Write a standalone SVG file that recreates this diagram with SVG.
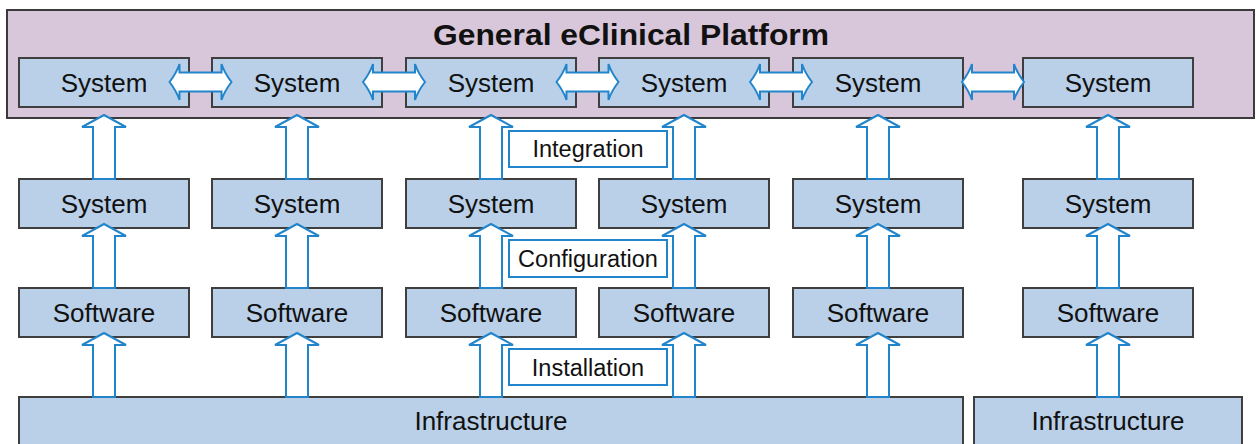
<svg xmlns="http://www.w3.org/2000/svg" xmlns:xlink="http://www.w3.org/1999/xlink" width="1256" height="444" viewBox="0 0 1256 444">
<style>
.bg{fill:#ffffff}
.plat{fill:#d8c6da;stroke:#3a3a3a;stroke-width:2}
.box{fill:#b9d0e8;stroke:#3f3f3f;stroke-width:2}
.lbl{fill:#ffffff;stroke:#2285cc;stroke-width:2}
.arr{fill:#ffffff;stroke:#2285cc;stroke-width:2;stroke-linejoin:miter}
.t{font-family:"Liberation Sans",Arial,Helvetica,sans-serif;font-size:26px;fill:#111;text-anchor:middle}
.tl{font-family:"Liberation Sans",Arial,Helvetica,sans-serif;font-size:23.5px;fill:#111;text-anchor:middle}
.title{font-family:"Liberation Sans",Arial,Helvetica,sans-serif;font-size:30px;font-weight:bold;fill:#111;text-anchor:middle}
</style>
<defs>
<path id="up" class="arr" d="M0,0 L22,12 L11,12 L11,64 L-11,64 L-11,12 L-22,12 Z"/>
<path id="dbl" class="arr" d="M-31,0 Q-24,-9 -21,-18 L-21,-9.5 L21,-9.5 L21,-18 Q24,-9 31,0 Q24,9 21,18 L21,9.5 L-21,9.5 L-21,18 Q-24,9 -31,0 Z"/>
</defs>
<rect class="bg" x="0" y="0" width="1256" height="444"/>

<g id="platform">
<rect class="plat" x="7" y="10" width="1247" height="108"/>
<text class="title" x="631" y="45" textLength="396" lengthAdjust="spacingAndGlyphs">General eClinical Platform</text>
</g>

<g id="sys-top-1"><rect class="box" x="19" y="58" width="170" height="49"/><text class="t" x="104" y="92">System</text></g>
<g id="sys-top-2"><rect class="box" x="212" y="58" width="170" height="49"/><text class="t" x="297" y="92">System</text></g>
<g id="sys-top-3"><rect class="box" x="406" y="58" width="170" height="49"/><text class="t" x="491" y="92">System</text></g>
<g id="sys-top-4"><rect class="box" x="599" y="58" width="170" height="49"/><text class="t" x="684" y="92">System</text></g>
<g id="sys-top-5"><rect class="box" x="793" y="58" width="170" height="49"/><text class="t" x="878" y="92">System</text></g>
<g id="sys-top-6"><rect class="box" x="1023" y="58" width="170" height="49"/><text class="t" x="1108" y="92">System</text></g>

<g id="sys-mid-1"><rect class="box" x="19" y="179" width="170" height="49"/><text class="t" x="104" y="213">System</text></g>
<g id="sys-mid-2"><rect class="box" x="212" y="179" width="170" height="49"/><text class="t" x="297" y="213">System</text></g>
<g id="sys-mid-3"><rect class="box" x="406" y="179" width="170" height="49"/><text class="t" x="491" y="213">System</text></g>
<g id="sys-mid-4"><rect class="box" x="599" y="179" width="170" height="49"/><text class="t" x="684" y="213">System</text></g>
<g id="sys-mid-5"><rect class="box" x="793" y="179" width="170" height="49"/><text class="t" x="878" y="213">System</text></g>
<g id="sys-mid-6"><rect class="box" x="1023" y="179" width="170" height="49"/><text class="t" x="1108" y="213">System</text></g>

<g id="sw-1"><rect class="box" x="19" y="288" width="170" height="49"/><text class="t" x="104" y="322">Software</text></g>
<g id="sw-2"><rect class="box" x="212" y="288" width="170" height="49"/><text class="t" x="297" y="322">Software</text></g>
<g id="sw-3"><rect class="box" x="406" y="288" width="170" height="49"/><text class="t" x="491" y="322">Software</text></g>
<g id="sw-4"><rect class="box" x="599" y="288" width="170" height="49"/><text class="t" x="684" y="322">Software</text></g>
<g id="sw-5"><rect class="box" x="793" y="288" width="170" height="49"/><text class="t" x="878" y="322">Software</text></g>
<g id="sw-6"><rect class="box" x="1023" y="288" width="170" height="49"/><text class="t" x="1108" y="322">Software</text></g>

<g id="infra-1"><rect class="box" x="19" y="397" width="944" height="70"/><text class="t" x="491" y="430">Infrastructure</text></g>
<g id="infra-2"><rect class="box" x="974" y="397" width="268" height="70"/><text class="t" x="1108" y="430">Infrastructure</text></g>

<g id="connectors">
<use xlink:href="#dbl" x="200.5" y="82"/>
<use xlink:href="#dbl" x="394" y="82"/>
<use xlink:href="#dbl" x="587.5" y="82"/>
<use xlink:href="#dbl" x="781" y="82"/>
<use xlink:href="#dbl" x="993" y="82"/>

<use xlink:href="#up" x="104" y="115"/>
<use xlink:href="#up" x="297" y="115"/>
<use xlink:href="#up" x="491" y="115"/>
<use xlink:href="#up" x="684" y="115"/>
<use xlink:href="#up" x="878" y="115"/>
<use xlink:href="#up" x="1108" y="115"/>

<use xlink:href="#up" x="104" y="224"/>
<use xlink:href="#up" x="297" y="224"/>
<use xlink:href="#up" x="491" y="224"/>
<use xlink:href="#up" x="684" y="224"/>
<use xlink:href="#up" x="878" y="224"/>
<use xlink:href="#up" x="1108" y="224"/>

<use xlink:href="#up" x="104" y="333"/>
<use xlink:href="#up" x="297" y="333"/>
<use xlink:href="#up" x="491" y="333"/>
<use xlink:href="#up" x="684" y="333"/>
<use xlink:href="#up" x="878" y="333"/>
<use xlink:href="#up" x="1108" y="333"/>
</g>

<g id="label-integration"><rect class="lbl" x="509" y="131" width="158" height="36"/><text class="tl" x="588" y="157">Integration</text></g>
<g id="label-configuration"><rect class="lbl" x="509" y="240" width="158" height="37"/><text class="tl" x="588" y="267">Configuration</text></g>
<g id="label-installation"><rect class="lbl" x="509" y="349" width="158" height="36"/><text class="tl" x="588" y="376">Installation</text></g>
</svg>
